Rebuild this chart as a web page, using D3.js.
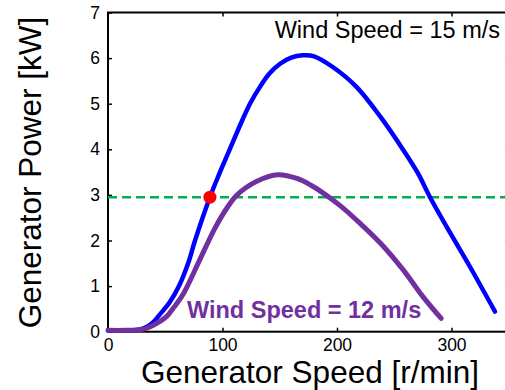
<!DOCTYPE html>
<html>
<head>
<meta charset="utf-8">
<script src="https://cdn.jsdelivr.net/npm/d3@7"></script>
<style>
  html, body { margin: 0; padding: 0; background: #fff; }
  svg { display: block; font-family: "Liberation Sans", Arial, sans-serif; }
</style>
</head>
<body>
<svg id="chart" width="505" height="390"></svg>
<script>
// Generator power curves versus generator speed for two wind speeds
const speed15 = [0, 15, 28, 35, 40, 45, 54, 62, 70, 76, 89, 97, 105, 117, 124, 133, 141, 150, 160, 170, 180, 196, 217, 238, 258, 271, 281, 299, 316, 338];
const power15 = [0.03, 0.03, 0.05, 0.12, 0.22, 0.37, 0.65, 1.0, 1.5, 2.0, 2.95, 3.45, 3.92, 4.62, 5.0, 5.38, 5.66, 5.87, 6.01, 6.06, 6.04, 5.81, 5.37, 4.71, 3.98, 3.46, 2.96, 2.16, 1.43, 0.44];

const speed12 = [0, 15, 30, 37, 45, 51, 58, 66, 80, 93, 103, 112, 120, 130, 148, 165, 178, 188, 203, 217, 238, 258, 275, 291];
const power12 = [0.03, 0.03, 0.05, 0.11, 0.22, 0.33, 0.55, 0.84, 1.57, 2.25, 2.68, 2.98, 3.15, 3.30, 3.44, 3.36, 3.20, 3.04, 2.76, 2.45, 1.94, 1.35, 0.77, 0.29];

const ratedPower = 2.95;               // dashed reference level [kW]
const operatingPoint = [89, 2.95];     // speed [r/min], power [kW]

const xTicks = [0, 100, 200, 300];
const yTicks = [0, 1, 2, 3, 4, 5, 6, 7];

const xLabel = "Generator Speed [r/min]";
const yLabel = "Generator Power [kW]";
const label15 = "Wind Speed = 15 m/s";
const label12 = "Wind Speed = 12 m/s";

const svg = d3.select("#chart");
const plotLeft = 108, plotRight = 508.75, plotTop = 12.5, plotBottom = 331.7;

const x = d3.scaleLinear().domain([0, 350]).range([plotLeft, plotRight]);
const y = d3.scaleLinear().domain([0, 7]).range([plotBottom, plotTop]);

// Axes with inward ticks
const axisFont = g => g.selectAll("text").attr("font-size", 17.5).attr("fill", "#000")
  .attr("font-family", "'Liberation Sans', Arial, sans-serif");

svg.append("g")
  .attr("transform", `translate(${plotLeft},0)`)
  .call(d3.axisLeft(y).tickValues(yTicks).tickFormat(d3.format("d"))
    .tickSizeInner(-4).tickSizeOuter(0).tickPadding(8))
  .call(g => g.select(".domain").remove())
  .call(g => g.selectAll("line").attr("stroke", "#000").attr("stroke-width", 1.5))
  .call(axisFont);

svg.append("g")
  .attr("transform", `translate(0,${plotBottom})`)
  .call(d3.axisBottom(x).tickValues(xTicks).tickFormat(d3.format("d"))
    .tickSizeInner(-4).tickSizeOuter(0).tickPadding(6.5))
  .call(g => g.select(".domain").remove())
  .call(g => g.selectAll("line").attr("stroke", "#000").attr("stroke-width", 1.5))
  .call(axisFont);

// Mirrored tick marks on the top and right edges (no labels)
svg.append("g")
  .attr("transform", `translate(0,${plotTop})`)
  .call(d3.axisTop(x).tickValues(xTicks.slice(1)).tickSizeInner(-4).tickSizeOuter(0))
  .call(g => g.select(".domain").remove())
  .call(g => g.selectAll("text").remove())
  .call(g => g.selectAll("line").attr("stroke", "#000").attr("stroke-width", 1.5));

svg.append("g")
  .attr("transform", `translate(${plotRight},0)`)
  .call(d3.axisRight(y).tickValues(yTicks.slice(1, -1)).tickSizeInner(-4).tickSizeOuter(0))
  .call(g => g.select(".domain").remove())
  .call(g => g.selectAll("text").remove())
  .call(g => g.selectAll("line").attr("stroke", "#999").attr("stroke-width", 1));

// Plot frame
svg.append("rect")
  .attr("x", plotLeft).attr("y", plotTop)
  .attr("width", plotRight - plotLeft).attr("height", plotBottom - plotTop)
  .attr("fill", "none").attr("stroke", "#000").attr("stroke-width", 2);

// Dashed rated power level
svg.append("line")
  .attr("x1", x(0)).attr("x2", plotRight)
  .attr("y1", y(ratedPower)).attr("y2", y(ratedPower))
  .attr("stroke", "#00B050").attr("stroke-width", 2.5)
  .attr("stroke-dasharray", "9,5");

const line = d3.line()
  .x(d => x(d[0])).y(d => y(d[1]))
  .curve(d3.curveCatmullRom.alpha(0.5));

svg.append("path")
  .datum(d3.zip(speed15, power15))
  .attr("d", line)
  .attr("fill", "none").attr("stroke", "#0000FF")
  .attr("stroke-width", 4.5).attr("stroke-linecap", "round").attr("stroke-linejoin", "round");

svg.append("path")
  .datum(d3.zip(speed12, power12))
  .attr("d", line)
  .attr("fill", "none").attr("stroke", "#7030A0")
  .attr("stroke-width", 5).attr("stroke-linecap", "round").attr("stroke-linejoin", "round");

// Operating point
svg.append("circle")
  .attr("cx", x(operatingPoint[0])).attr("cy", y(operatingPoint[1]))
  .attr("r", 6.5).attr("fill", "#FF0000");

// Curve labels
svg.append("text")
  .attr("x", 500).attr("y", 38)
  .attr("text-anchor", "end")
  .attr("font-size", 23.5).attr("fill", "#000")
  .text(label15);

svg.append("text")
  .attr("x", 187).attr("y", 318)
  .attr("font-size", 23.5).attr("font-weight", "bold").attr("fill", "#7030A0")
  .text(label12);

// Axis titles
svg.append("text")
  .attr("x", 310).attr("y", 383)
  .attr("text-anchor", "middle")
  .attr("font-size", 31.5).attr("fill", "#000")
  .text(xLabel);

svg.append("text")
  .attr("transform", "translate(41,172.5) rotate(-90)")
  .attr("text-anchor", "middle")
  .attr("font-size", 31.5).attr("fill", "#000")
  .text(yLabel);
</script>
</body>
</html>
